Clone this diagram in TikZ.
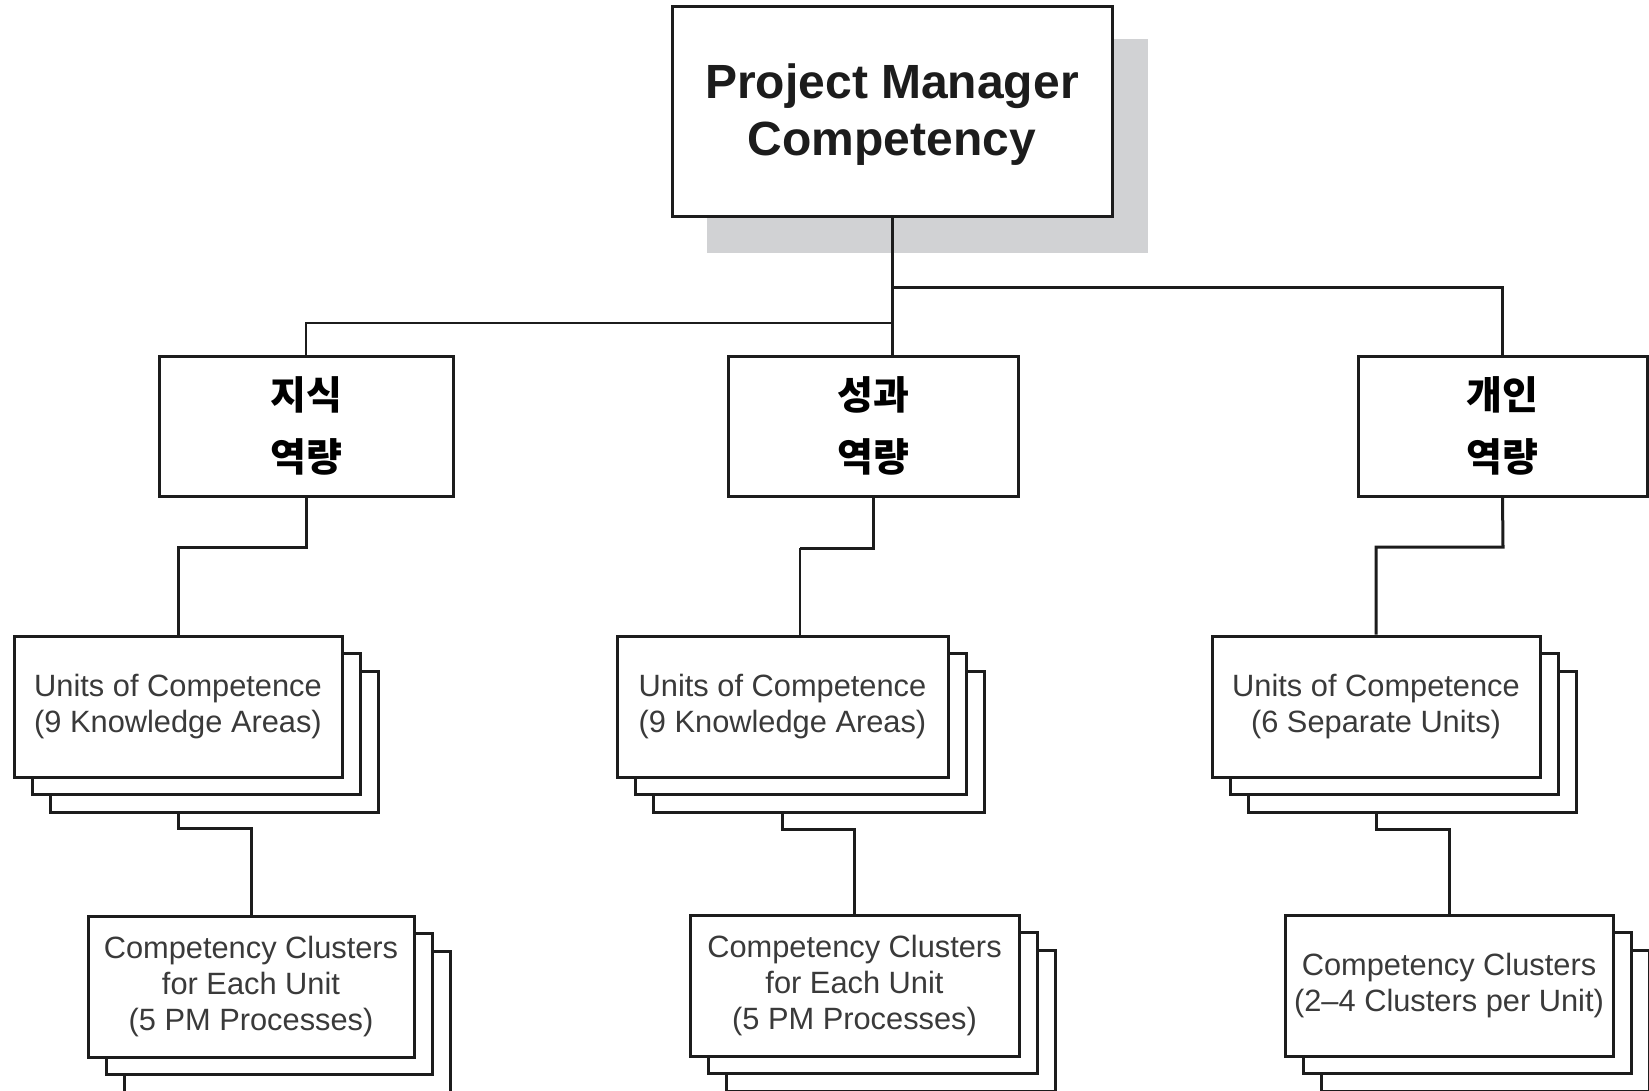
\documentclass[tikz,border=0pt]{standalone}
\usepackage{fontspec}
\setmainfont{Liberation Sans}
\newfontfamily\krfont{Noto Sans CJK KR}
\usetikzlibrary{fit}

\definecolor{shadowgray}{RGB}{209,210,212}
\definecolor{labelgray}{RGB}{58,58,58}
\definecolor{ink}{RGB}{28,28,28}

\tikzset{
  boxbase/.style={draw=ink, fill=white, line width=1.5pt, inner sep=0pt},
  textbase/.style={inner sep=0pt, align=center},
  titletext/.style={textbase, text=ink, font=\bfseries\fontsize{24}{28.5}\selectfont},
  areatext/.style={textbase, text=black, font=\krfont\bfseries\fontsize{19.5}{31}\selectfont},
  sheettext/.style={textbase, text=labelgray, font=\fontsize{15.4}{18.2}\selectfont},
  shadowbox/.style={fill=shadowgray, inner sep=0pt},
  conn/.style={draw=ink, line width=1.5pt},
  thinconn/.style={draw=ink, line width=1pt}
}

% a stack of three sheets; the front one carries the text
\newcommand\pmstack[6]{%
  \node[boxbase, fit={({#2+36},{#3+35}) ({#4+36},{#5+35})}] (#1-3) {};
  \node[boxbase, fit={({#2+18},{#3+17.5}) ({#4+18},{#5+17.5})}] (#1-2) {};
  \node[boxbase, fit={(#2,#3) (#4,#5)}] (#1) {};
  \node[sheettext] (#1-t) at (#1.center) {#6};
}

\begin{document}
\begin{tikzpicture}[x=0.5pt, y=-0.5pt]
  \clip (0,0) rectangle (1649,1091);
  \fill[white] (0,0) rectangle (1649,1091);

  % top box with its drop shadow
  \node[shadowbox, fit={(707,39) (1148,253)}] (topshadow) {};
  \node[boxbase, fit={(672,7) (1112,217)}] (top) {};
  \node[titletext] (top-t) at ([yshift=-1.5pt]top.center) {Project Manager\\Competency};

  % the three competency areas
  \node[boxbase, fit={(159,356) (453,496)}] (know) {};
  \node[boxbase, fit={(728,356) (1018,496)}] (perf) {};
  \node[boxbase, fit={(1358,356) (1647,496)}] (pers) {};
  \node[areatext] (know-t) at (know.center) {지식\\역량};
  \node[areatext] (perf-t) at (perf.center) {성과\\역량};
  \node[areatext] (pers-t) at (pers.center) {개인\\역량};

  % units of competence
  \pmstack{unitA}{14}{636}{342}{777}{Units of Competence\\(9 Knowledge Areas)}
  \pmstack{unitB}{617}{636}{948}{777}{Units of Competence\\(9 Knowledge Areas)}
  \pmstack{unitC}{1212}{636}{1540}{777}{Units of Competence\\(6 Separate Units)}

  % competency clusters
  \pmstack{clusA}{88}{916}{414}{1057}{Competency Clusters\\for Each Unit\\(5 PM Processes)}
  \pmstack{clusB}{690}{915}{1019}{1056}{Competency Clusters\\for Each Unit\\(5 PM Processes)}
  \pmstack{clusC}{1285}{915}{1613}{1056}{Competency Clusters\\(2--4 Clusters per Unit)}

  % top level connectors
  \coordinate (jright) at (892,288);
  \coordinate (jleft) at (892,323);
  \draw[conn] (top.south) -- (top.south |- perf.north);
  \draw[conn] (jright) -| (pers.north);
  \draw[thinconn] (jleft) -| (know.north);

  % areas to units
  \coordinate (kA) at (306,547);
  \coordinate (kB) at (800,548);
  \coordinate (kC) at (1503,547);
  \draw[conn] (know.south) -- (kA) -| (unitA.north);
  \draw[conn] (perf.south) |- (kB);
  \draw[thinconn] (kB) -- (kB |- unitB.north);
  \draw[conn] (pers.south) -- (kC) -| (unitC.north);

  % units to clusters
  \coordinate (cA) at (178,828);
  \coordinate (cB) at (782,829);
  \coordinate (cC) at (1376,829);
  \draw[conn] (cA |- unitA-3.south) -- (cA) -| (clusA.north);
  \draw[conn] (cB |- unitB-3.south) -- (cB) -| (clusB.north);
  \draw[conn] (cC |- unitC-3.south) -- (cC) -| (clusC.north);
\end{tikzpicture}
\end{document}
